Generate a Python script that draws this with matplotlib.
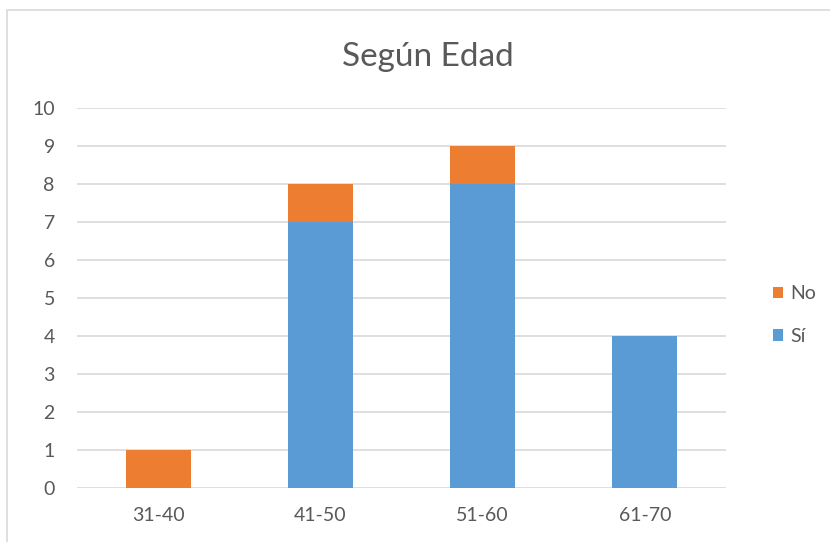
import matplotlib.pyplot as plt
from matplotlib.patches import Rectangle
import numpy as np

# datos
categorias = ['31-40', '41-50', '51-60', '61-70']
si = [0, 7, 8, 4]
no = [1, 1, 1, 0]
y_ticks = list(range(0, 11))

azul = '#5B9BD5'
naranja = '#ED7D31'
gris_texto = '#595959'
gris_linea = '#D9D9D9'

plt.rcParams['font.family'] = ['Lato', 'DejaVu Sans']

fig = plt.figure(figsize=(8.3, 5.42), dpi=100)
ax = fig.add_axes([0.0928, 0.0996, 0.7819, 0.7011])

# borde del gráfico
fig.patches.append(Rectangle((7 / 830, -0.01), 1.0, 1 - 10 / 542 + 0.01,
                             transform=fig.transFigure, fill=False,
                             edgecolor=gris_linea, linewidth=1.2))

x = np.arange(len(categorias))
ancho = 0.4
ax.bar(x, si, ancho, color=azul, label='Sí', zorder=3)
ax.bar(x, no, ancho, bottom=si, color=naranja, label='No', zorder=3)

ax.set_xlim(-0.5, len(categorias) - 0.5)
ax.set_ylim(0, 10)
ax.set_yticks(y_ticks)
ax.set_xticks(x)
ax.set_xticklabels(categorias)
ax.tick_params(axis='both', length=0, colors=gris_texto, labelsize=14)
ax.tick_params(axis='y', pad=16)
ax.tick_params(axis='x', pad=14)
ax.grid(axis='y', color=gris_linea, linewidth=1.2, zorder=0)
for s in ax.spines.values():
    s.set_visible(False)

fig.text(0.516, 0.895, 'Según Edad', ha='center', va='center',
         fontsize=24, color=gris_texto)

handles, labels = ax.get_legend_handles_labels()
leg = fig.legend(handles[::-1], labels[::-1], loc='center left',
                 bbox_to_anchor=(0.91, 0.419), frameon=False,
                 handlelength=0.55, handleheight=0.55, handletextpad=0.35,
                 labelspacing=1.3, fontsize=14)
for t in leg.get_texts():
    t.set_color(gris_texto)

fig.savefig('out.png', dpi=100)
